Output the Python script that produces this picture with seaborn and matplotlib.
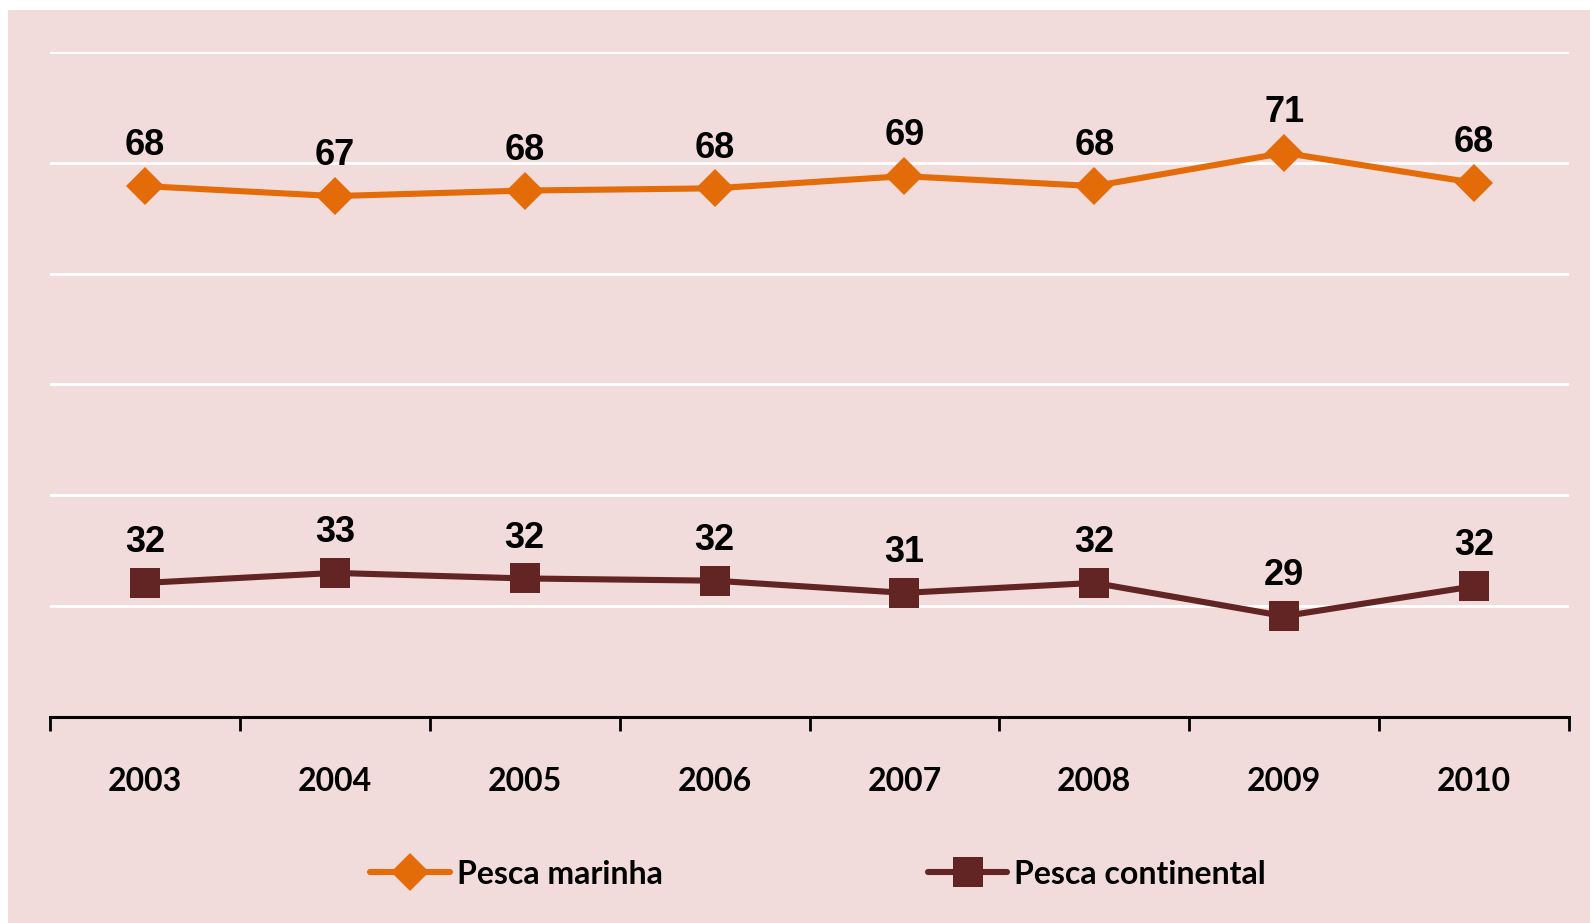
import numpy as np
import pandas as pd
import seaborn as sns
import matplotlib.pyplot as plt
from matplotlib.lines import Line2D
from matplotlib.patches import Rectangle

# données
anos = ['2003', '2004', '2005', '2006', '2007', '2008', '2009', '2010']
pesca_marinha = [67.9, 67.0, 67.5, 67.7, 68.8, 67.9, 70.9, 68.2]
pesca_continental = [32.1, 33.0, 32.5, 32.3, 31.2, 32.1, 29.1, 31.8]

cor_marinha = '#E36C09'
cor_continental = '#632523'
fundo = '#F2DCDB'

df = pd.DataFrame({'ano': anos, 'marinha': pesca_marinha, 'continental': pesca_continental})

sns.set_style('white')
plt.rcParams['font.family'] = ['Lato', 'DejaVu Sans']
plt.rcParams['text.color'] = 'black'
plt.rcParams['xtick.color'] = 'black'

fig = plt.figure(figsize=(15.9, 9.23), dpi=100)
fig.patch.set_facecolor('white')
fig.patches.append(Rectangle((8 / 1590, 0), 1, 1 - 10 / 923, transform=fig.transFigure,
                             facecolor=fundo, edgecolor='none', zorder=-10))
ax = fig.add_axes([50 / 1590, 1 - 717 / 923, (1569 - 50) / 1590, (717 - 52) / 923])
ax.set_facecolor(fundo)

lw = 4.4
ms_d = 19
ms_s = 22
sns.lineplot(data=df, x='ano', y='marinha', ax=ax, color=cor_marinha, lw=lw,
             marker='D', markersize=ms_d, markeredgecolor=cor_marinha, markeredgewidth=0, zorder=3)
sns.lineplot(data=df, x='ano', y='continental', ax=ax, color=cor_continental, lw=lw,
             marker='s', markersize=ms_s, markeredgecolor=cor_continental, markeredgewidth=0, zorder=3)

# rótulos
for i in range(len(anos)):
    for v in (pesca_marinha[i], pesca_continental[i]):
        ax.annotate('%.0f' % v, (i, v), xytext=(0, 29), textcoords='offset points',
                    ha='center', va='center', fontsize=26, fontweight='bold',
                    family=['Liberation Sans', 'DejaVu Sans'], color='black')

ax.set_ylim(20, 80)
ax.set_yticks(np.arange(20, 81, 10))
ax.yaxis.grid(True, color='white', lw=2)
ax.set_axisbelow(True)
ax.tick_params(axis='y', left=False, labelleft=False)
ax.set_xlim(-0.5, len(anos) - 0.5)
ax.set_xticks(range(len(anos)))
ax.set_xticklabels(anos, fontsize=23, fontweight='bold', color='black')
ax.set_xticks(np.arange(-0.5, len(anos), 1), minor=True)
ax.tick_params(axis='x', which='major', bottom=True, length=0, pad=36)
ax.tick_params(axis='x', which='minor', bottom=True, length=10, width=2, color='black', direction='out')
ax.set_xlabel('')
ax.set_ylabel('')
for s in ['left', 'right', 'top']:
    ax.spines[s].set_visible(False)
ax.spines['bottom'].set_color('black')
ax.spines['bottom'].set_linewidth(2.2)

handles = [
    Line2D([], [], color=cor_marinha, lw=lw, marker='D', markersize=ms_d, markeredgewidth=0),
    Line2D([], [], color=cor_continental, lw=lw, marker='s', markersize=ms_s, markeredgewidth=0),
]
leg = ax.legend(handles, ['Pesca marinha', 'Pesca continental'], loc='center',
                bbox_to_anchor=(818 / 1590, 1 - 874 / 923), bbox_transform=fig.transFigure,
                ncol=2, frameon=False, handlelength=2.5, handletextpad=0.2, columnspacing=8.3,
                prop={'size': 23, 'weight': 'bold'})
for t in leg.get_texts():
    t.set_color('black')

fig.savefig('out.png', dpi=100, facecolor=fig.get_facecolor())
